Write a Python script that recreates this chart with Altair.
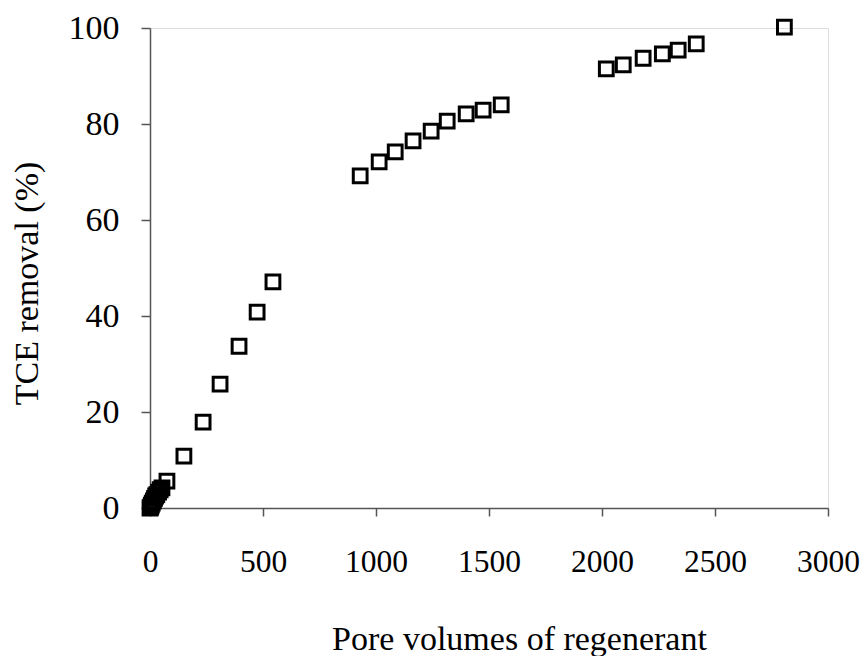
import altair as alt
import pandas as pd

pore_volumes = [0, 3, 6, 10, 15, 20, 25, 30, 38, 45, 53, 75,
                150, 235, 310, 394, 474, 544,
                930, 1014, 1085, 1164, 1244, 1315, 1399, 1474, 1554,
                2019, 2094, 2182, 2267, 2337, 2417, 2807]
tce_removal = [0, 0.2, 0.6, 1.0, 1.5, 2.0, 2.5, 2.8, 3.3, 3.8, 4.2, 5.6,
               10.8, 17.9, 25.8, 33.7, 40.8, 47.1,
               69.2, 72.1, 74.2, 76.5, 78.5, 80.6, 82.1, 82.9, 84.0,
               91.5, 92.3, 93.7, 94.6, 95.4, 96.7, 100.2]

x_ticks = [0, 500, 1000, 1500, 2000, 2500, 3000]
y_ticks = [0, 20, 40, 60, 80, 100]

df = pd.DataFrame({"pv": pore_volumes, "tce": tce_removal})

FONT = "Liberation Serif"
AXIS_COLOR = "#555555"

chart = alt.Chart(df).mark_point(
    shape="square", filled=False, stroke="black", strokeWidth=3, size=190, opacity=1
).encode(
    x=alt.X("pv:Q",
            scale=alt.Scale(domain=[0, 3000], nice=False, zero=False),
            axis=alt.Axis(values=x_ticks, title="Pore volumes of regenerant",
                          grid=False, format="d", labelFlush=False,
                          labelOverlap=False,
                          domainColor=AXIS_COLOR, domainWidth=1.5,
                          tickColor=AXIS_COLOR, tickWidth=1.5, tickSize=8,
                          labelFont=FONT, labelFontSize=31.5, labelColor="black",
                          labelPadding=30,
                          titleFont=FONT, titleFontSize=34, titleFontWeight="normal",
                          titleColor="black", titleX=369, titleY=131,
                          titleBaseline="middle", titleAlign="center")),
    y=alt.Y("tce:Q",
            scale=alt.Scale(domain=[0, 100], nice=False, zero=False),
            axis=alt.Axis(values=y_ticks, title="TCE removal (%)",
                          grid=False, labelFlush=False, labelOverlap=False,
                          domainColor=AXIS_COLOR, domainWidth=1.5,
                          tickColor=AXIS_COLOR, tickWidth=1.5, tickSize=9,
                          labelFont=FONT, labelFontSize=34, labelColor="black",
                          labelPadding=22,
                          titleFont=FONT, titleFontSize=34, titleFontWeight="normal",
                          titleColor="black", titleX=-123, titleY=255,
                          titleAngle=270, titleBaseline="middle", titleAlign="center")),
).properties(
    width=678, height=480,
    autosize=alt.AutoSizeParams(type="none"),
    padding={"left": 142, "top": 20, "right": 32, "bottom": 148},
).configure_view(
    stroke=AXIS_COLOR, strokeWidth=1.5
).configure(background="white")

chart.save("out.html", embed_options={"renderer": "svg", "actions": False})
